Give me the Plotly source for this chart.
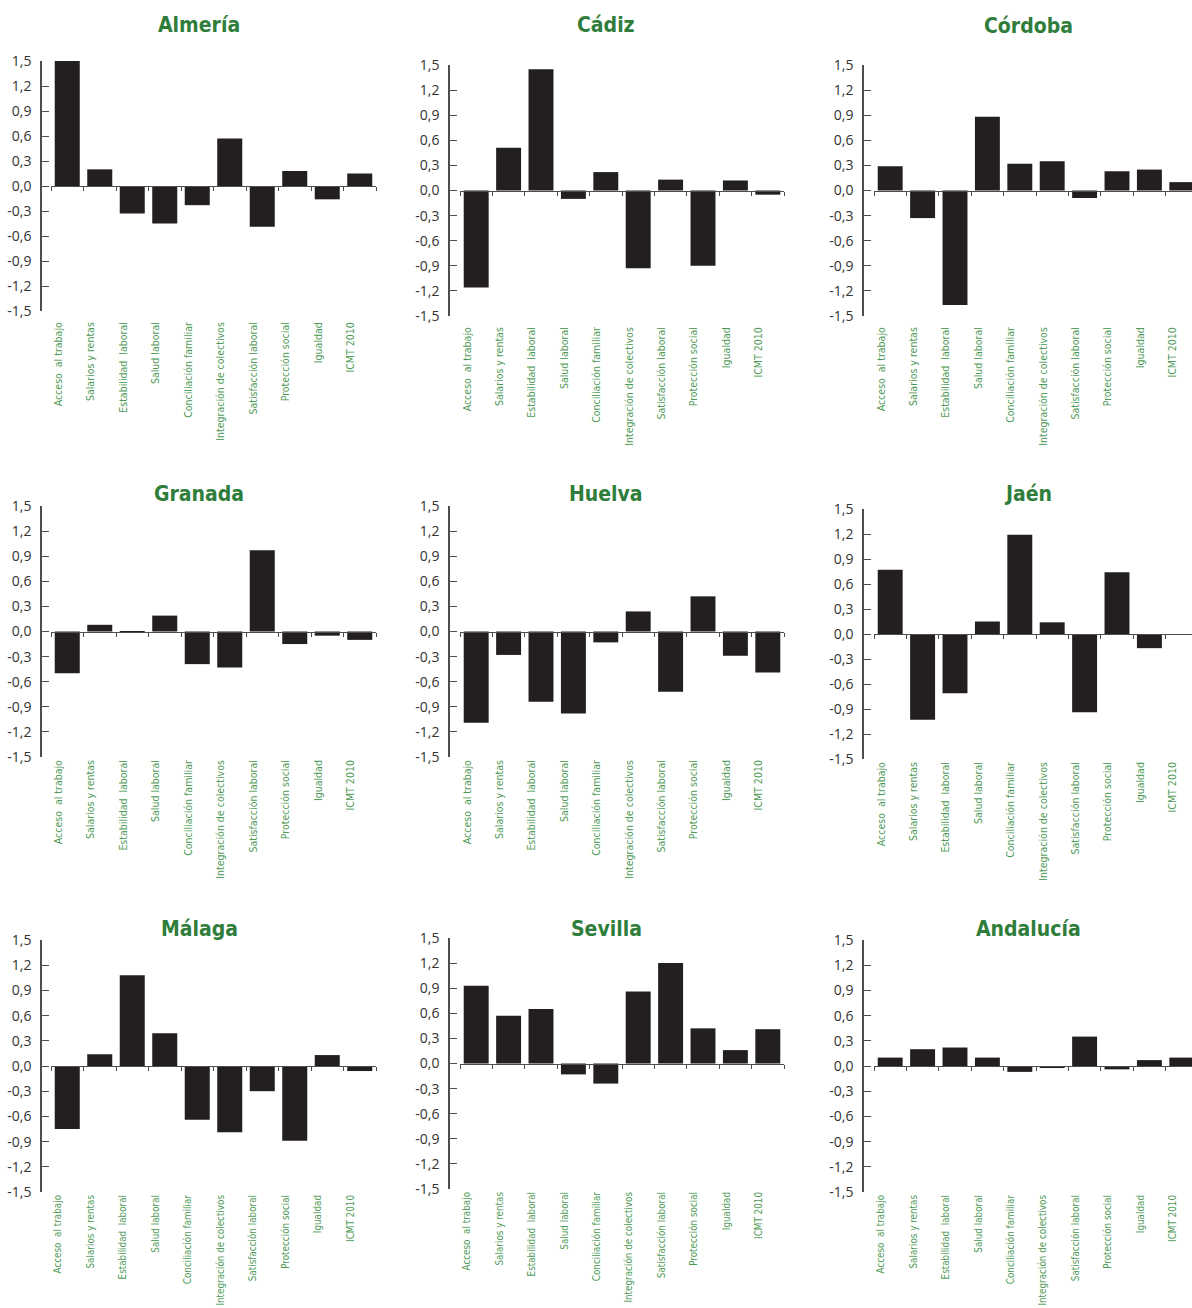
import plotly.graph_objects as go

W, H = 1192, 1308

categories = ["Acceso  al trabajo", "Salarios y rentas", "Estabilidad  laboral", "Salud laboral",
              "Conciliación familiar", "Integración de colectivos", "Satisfacción laboral",
              "Protección social", "Igualdad", "ICMT 2010"]

titles = ["Almería", "Cádiz", "Córdoba", "Granada", "Huelva", "Jaén", "Málaga", "Sevilla", "Andalucía"]

almeria = [1.50, 0.20, -0.33, -0.45, -0.23, 0.57, -0.49, 0.18, -0.16, 0.15]
cadiz = [-1.16, 0.51, 1.45, -0.10, 0.22, -0.93, 0.13, -0.90, 0.12, -0.05]
cordoba = [0.29, -0.33, -1.37, 0.88, 0.32, 0.35, -0.09, 0.23, 0.25, 0.10]
granada = [-0.50, 0.08, 0.005, 0.19, -0.39, -0.43, 0.97, -0.15, -0.05, -0.10]
huelva = [-1.09, -0.28, -0.84, -0.98, -0.13, 0.24, -0.72, 0.42, -0.29, -0.49]
jaen = [0.77, -1.03, -0.71, 0.15, 1.19, 0.14, -0.94, 0.74, -0.17, -0.01]
malaga = [-0.75, 0.14, 1.08, 0.39, -0.64, -0.79, -0.30, -0.89, 0.13, -0.06]
sevilla = [0.93, 0.57, 0.65, -0.13, -0.24, 0.86, 1.20, 0.42, 0.16, 0.41]
andalucia = [0.10, 0.20, 0.22, 0.10, -0.07, -0.02, 0.35, -0.04, 0.07, 0.10]

series = [almeria, cadiz, cordoba, granada, huelva, jaen, malaga, sevilla, andalucia]

ytick_vals = [1.5, 1.2, 0.9, 0.6, 0.3, 0.0, -0.3, -0.6, -0.9, -1.2, -1.5]
ytick_text = ["1,5", "1,2", "0,9", "0,6", "0,3", "0,0", "-0,3", "-0,6", "-0,9", "-1,2", "-1,5"]

# layout geometry (pixels)
col_yaxis_x = [41, 449, 863]
col_cat_x = [(51, 376), (460, 784), (874, 1192)]
cat_w = [32.5, 32.4, 32.4]
panel_y = [(61, 311), (65, 316), (65, 316),
           (506, 757), (506, 757), (509, 759),
           (940, 1192), (938, 1189), (940, 1192)]
title_pos = [(199, 25), (606, 25), (1028, 26),
             (199, 494), (606, 494), (1028, 494),
             (199, 929), (606, 929), (1028, 929)]
row_label_len = [6, 0, 0]
row_label_size = [10.5, 10.5, 9.8]

BAR = "#231f20"
AXIS = "#4d4d4d"
TITLE_GREEN = "#2f7d3b"
LABEL_GREEN = "#4f9a57"
NARROW_FONT = ("Liberation Sans Narrow, DejaVu Sans Condensed, Roboto Condensed, "
               "Arial Narrow, Liberation Sans, sans-serif")
TICK_FONT = "Open Sans, Noto Sans, sans-serif"

fig = go.Figure()
layout = dict(width=W, height=H, autosize=False,
              margin=dict(l=0, r=0, t=0, b=0, pad=0, autoexpand=False),
              paper_bgcolor="white", plot_bgcolor="rgba(0,0,0,0)", showlegend=False,
              bargap=0.23, annotations=[])


def key(prefix, n):
    return prefix if n == 1 else f"{prefix}{n}"


for k, vals in enumerate(series):
    col = k % 3
    row = k // 3
    xb = 2 * k + 1
    xl = 2 * k + 2
    yi = k + 1
    x0, x1 = col_cat_x[col]
    rend = -0.5 + (x1 - x0) / cat_w[col]
    top, bot = panel_y[k]
    ydom = [1 - bot / H, 1 - top / H]
    xdom = [x0 / W, x1 / W]
    shift = 0.28

    fig.add_trace(go.Bar(x=categories, y=vals, xaxis=f"x{xb}", yaxis=f"y{yi}",
                         marker=dict(color=BAR, line=dict(width=0)), hoverinfo="x+y"))
    # invisible helper trace so the label axis is rendered
    fig.add_trace(go.Scatter(x=list(range(len(categories))), y=[0] * len(categories),
                             xaxis=f"x{xl}", yaxis=f"y{yi}", mode="markers",
                             marker=dict(opacity=0), hoverinfo="skip"))

    layout[key("xaxis", xb)] = dict(
        type="category", domain=xdom, range=[-0.5, rend], anchor="free",
        position=(ydom[0] + ydom[1]) / 2, showline=True, linecolor=AXIS, linewidth=1.3,
        ticks="outside", tickson="boundaries", ticklen=4, tickcolor=AXIS, tickwidth=1.3,
        showticklabels=False, showgrid=False, zeroline=False, fixedrange=True,
        automargin=False, categoryorder="array", categoryarray=categories)
    layout[key("xaxis", xl)] = dict(
        overlaying=f"x{xb}", anchor=f"y{yi}", side="bottom", type="linear",
        range=[-0.5 + shift, rend + shift], tickmode="array",
        tickvals=list(range(len(categories))), ticktext=categories, tickangle=-90,
        showline=False, showgrid=False, zeroline=False,
        ticks="outside" if row_label_len[row] else "", ticklen=max(row_label_len[row], 1),
        tickcolor="rgba(0,0,0,0)", fixedrange=True, automargin=False,
        tickfont=dict(family=NARROW_FONT, size=row_label_size[row], color=LABEL_GREEN))
    layout[key("yaxis", yi)] = dict(
        domain=ydom, range=[-1.5, 1.5], anchor="free", position=col_yaxis_x[col] / W,
        showline=True, linecolor=AXIS, linewidth=1.5, ticks="inside", ticklen=7,
        tickcolor=AXIS, tickwidth=1.3, tickmode="array", tickvals=ytick_vals,
        ticktext=ytick_text, showgrid=False, zeroline=False, fixedrange=True,
        ticklabelstandoff=6, automargin=False,
        tickfont=dict(family=TICK_FONT, size=14, color="#333333"))
    tx, ty = title_pos[k]
    layout["annotations"].append(dict(
        text=f"<b>{titles[k]}</b>", x=tx / W, y=1 - ty / H, xref="paper", yref="paper",
        xanchor="center", yanchor="middle", showarrow=False,
        font=dict(family=NARROW_FONT, size=21, color=TITLE_GREEN)))

fig.update_layout(**layout)
fig.write_html("out.html", config={"displayModeBar": False},
               post_script="document.body.style.margin='0';"
                           "document.documentElement.style.overflow='hidden';")
